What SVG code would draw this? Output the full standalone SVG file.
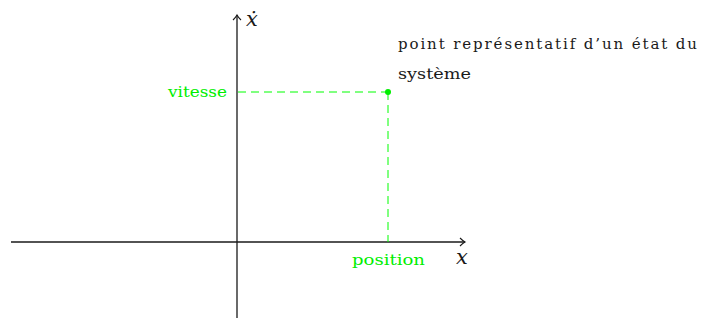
<svg xmlns="http://www.w3.org/2000/svg" width="701" height="320" viewBox="0 0 701 320">
<style>
.ax{stroke:#1a1a1a;stroke-width:1.3;fill:none}
.dash{stroke:#00ff00;stroke-width:1;stroke-dasharray:8,5;fill:none}
.g{fill:#00ee00;font-family:"DejaVu Serif","Liberation Serif",serif;font-size:15.5px}
.t{fill:#1a1a1a;font-family:"DejaVu Serif","Liberation Serif",serif;font-size:15px}
.m{fill:#1a1a1a;font-family:"DejaVu Serif","Liberation Serif",serif;font-size:21px;font-style:italic}
</style>
<defs>
<marker id="arr" markerWidth="10" markerHeight="10" refX="8" refY="5" orient="auto" markerUnits="userSpaceOnUse">
<path d="M3,1 Q6,4 8,5 Q6,6 3,9" fill="none" stroke="#1a1a1a" stroke-width="1.1"/>
</marker>
</defs>
<g id="connectors">
<line class="ax" x1="11" y1="242" x2="465" y2="242" marker-end="url(#arr)"/>
<line class="ax" x1="237" y1="318" x2="237" y2="15" marker-end="url(#arr)"/>
<line class="dash" x1="238" y1="92" x2="388" y2="92"/>
<line class="dash" x1="388" y1="92" x2="388" y2="242"/>
</g>
<g id="point">
<circle cx="388" cy="92" r="3" fill="#00ee00"/>
</g>
<g id="labels">
<text class="m" x="246" y="26">ẋ</text>
<text class="m" x="456" y="264">x</text>
<text class="g" x="168" y="97" textLength="59" lengthAdjust="spacingAndGlyphs">vitesse</text>
<text class="g" x="352" y="265" textLength="73" lengthAdjust="spacingAndGlyphs">position</text>
<text class="t" x="398" y="49" textLength="299" lengthAdjust="spacing">point représentatif d’un état du</text>
<text class="t" x="398" y="79" textLength="73" lengthAdjust="spacingAndGlyphs">système</text>
</g>
</svg>
